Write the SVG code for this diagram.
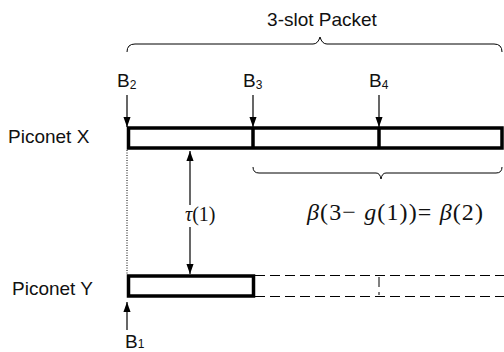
<svg xmlns="http://www.w3.org/2000/svg" width="504" height="352" viewBox="0 0 504 352">
<style>
.lbl{font-family:"Liberation Sans",Arial,sans-serif;font-size:19px;fill:#111}
.sub{font-family:"Liberation Sans",Arial,sans-serif;font-size:12px;fill:#111}
.math{font-family:"Liberation Serif","Times New Roman",serif;fill:#111}
.bar{fill:#fff;stroke:#000;stroke-width:3.5}
.thin{fill:none;stroke:#000;stroke-width:1}
.dash{fill:none;stroke:#000;stroke-width:1;stroke-dasharray:10 5}
.arr{fill:none;stroke:#000;stroke-width:1.2;marker-end:url(#ah)}
</style>
<defs>
<marker id="ah" markerUnits="userSpaceOnUse" markerWidth="10" markerHeight="15" refX="14" refY="5" orient="auto" viewBox="0 0 14 10">
<path d="M0,0 L14,5 L0,10 Z" fill="#000"/>
</marker>
</defs>
<g id="title">
<text class="lbl" x="322" y="26" text-anchor="middle">3-slot Packet</text>
<path class="thin" d="M127,52 Q127,44 135,44 L313,44 Q318,44 320,37 Q322,44 327,44 L494,44 Q502,44 502,52"/>
</g>
<g id="piconetX">
<text class="lbl" x="8" y="143">Piconet X</text>
<rect class="bar" x="128.5" y="128" width="373.5" height="20"/>
<line x1="253" y1="128" x2="253" y2="148" stroke="#000" stroke-width="3.5"/>
<line x1="379" y1="128" x2="379" y2="148" stroke="#000" stroke-width="3.5"/>
</g>
<g id="piconetY">
<text class="lbl" x="12" y="295">Piconet Y</text>
<path class="dash" d="M255,275.5 L504,275.5 M255,296.5 L504,296.5 M379,277 L379,295"/>
<rect class="bar" x="128.5" y="276" width="125" height="20"/>
</g>
<g id="labels">
<text class="lbl" x="117" y="87">B<tspan class="sub" dy="2">2</tspan></text>
<text class="lbl" x="243" y="87">B<tspan class="sub" dy="2">3</tspan></text>
<text class="lbl" x="369" y="87">B<tspan class="sub" dy="2">4</tspan></text>
<text class="lbl" x="125" y="348">B<tspan class="sub" dy="0">1</tspan></text>
<text class="math" x="185" y="221" font-size="20"><tspan font-style="italic">τ</tspan>(1)</text>
<text class="math" x="307" y="220" font-size="24" textLength="176" lengthAdjust="spacing"><tspan font-style="italic">β</tspan>(3− <tspan font-style="italic">g</tspan>(1))= <tspan font-style="italic">β</tspan>(2)</text>
<path class="thin" d="M253,167 Q253,173 259,173 L376,173 Q380,173 381,179 Q382,173 386,173 L496,173 Q502,173 502,167"/>
</g>
<g id="connectors">
<line class="arr" x1="127" y1="95" x2="127" y2="127"/>
<line class="arr" x1="253" y1="95" x2="253" y2="127"/>
<line class="arr" x1="379" y1="95" x2="379" y2="127"/>
<line class="arr" x1="127" y1="330" x2="127" y2="302"/>
<line class="arr" x1="190" y1="205" x2="190" y2="151"/>
<line class="arr" x1="190" y1="227" x2="190" y2="274"/>
<line x1="127" y1="150" x2="127" y2="274" stroke="#000" stroke-width="1" stroke-dasharray="1 1.5"/>
</g>
</svg>
